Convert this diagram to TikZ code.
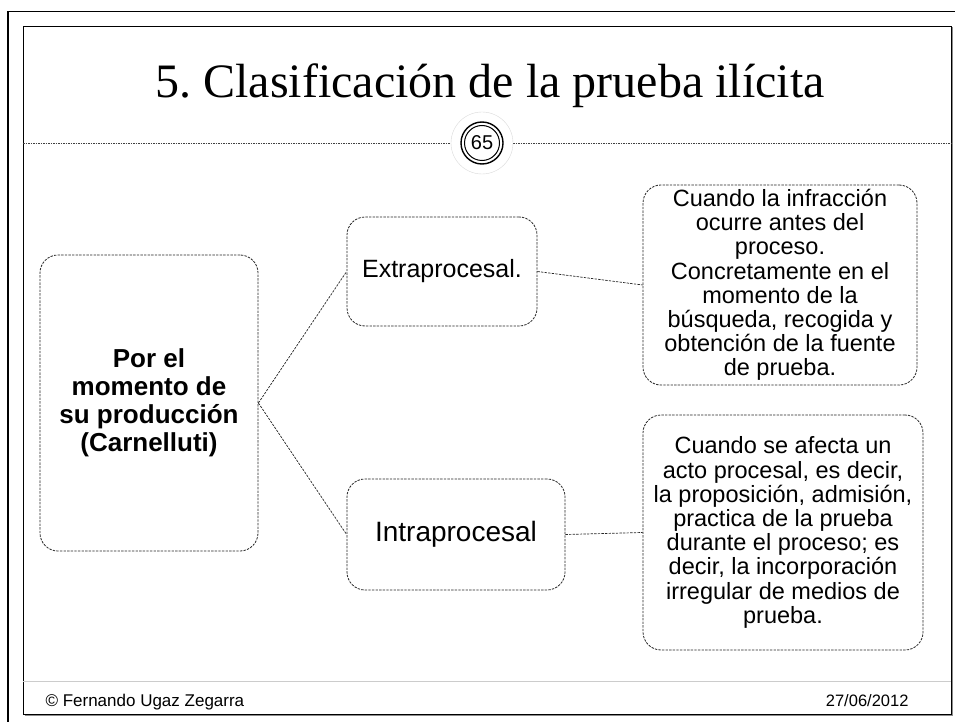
\documentclass[tikz,border=0pt]{standalone}
\usepackage{fontspec}
\setmainfont{Liberation Sans}
\newfontfamily\titlefont{Liberation Serif}
\frenchspacing

\begin{document}
\begin{tikzpicture}[x=1pt,y=-1pt,
  caja/.style={draw=black!85,dash pattern=on 2.4pt off 1.2pt,line width=0.8pt,rounded corners=18pt,align=center,inner sep=0pt},
  enlace/.style={draw=black!85,dash pattern=on 2.4pt off 1.2pt,line width=0.7pt},
  texto/.style={font=\fontsize{23.5}{24.2}\selectfont}]
\useasboundingbox (0,0) rectangle (955,722);
\draw [line width=1.8pt] (8,722) -- (8,11.5) -- (955,11.5);
\draw [black!45,line width=1.2pt] (24.5,715.5) -- (952.5,715.5) -- (952.5,27.5);
\draw [line width=0.9pt] (23,26) rectangle (951,714);
\node [anchor=base,font=\titlefont\fontsize{48}{50}\selectfont] (titulo) at (490,98) {5. Clasificación de la prueba ilícita};
\draw [black!75,dash pattern=on 1.5pt off 1pt,line width=0.7pt] (23,143) -- (951,143);
\node [circle,draw=black!15,fill=white,minimum size=62pt] (disco) at (482,143) {};
\node [circle,draw,line width=1.4pt,minimum size=42pt,inner sep=0pt] (anillo) at (disco) {};
\node [circle,draw,line width=1pt,minimum size=35pt,inner sep=0pt,font=\fontsize{20}{21}\selectfont] (pagina) at (disco) {65};
\node [caja,minimum width=218pt,minimum height=296pt,font=\bfseries\fontsize{26}{28}\selectfont] (raiz) at (149,403) {Por el\\ momento de\\ su producción\\ (Carnelluti)};
\node [caja,minimum width=190pt,minimum height=109pt,font=\fontsize{25}{28}\selectfont] (extra) at (442,271.5) {Extraprocesal.};
\node [caja,minimum width=218pt,minimum height=111pt,font=\fontsize{28}{30}\selectfont] (intra) at (456,534.5) {Intraprocesal};
\node [caja,texto,minimum width=274pt,minimum height=200pt] (antes) at (780,285) {Cuando la infracción\\ ocurre antes del\\ proceso.\\ Concretamente en el\\ momento de la\\ búsqueda, recogida y\\ obtención de la fuente\\ de prueba.};
\node [caja,texto,minimum width=280pt,minimum height=235pt] (durante) at (783,532.5) {Cuando se afecta un\\ acto procesal, es decir,\\ la proposición, admisión,\\ practica de la prueba\\ durante el proceso; es\\ decir, la incorporación\\ irregular de medios de\\ prueba.};
\draw [enlace] (raiz.east) -- (extra.west);
\draw [enlace] (raiz.east) -- (intra.west);
\draw [enlace] (extra.east) -- (antes.west);
\draw [enlace] (intra.east) -- (durante.west);
\draw [black!20,line width=0.8pt] (23,681) -- (951,681);
\node [anchor=base west,font=\fontsize{17}{18}\selectfont] (autor) at (42,706) {© Fernando Ugaz Zegarra};
\node [anchor=base east,font=\fontsize{16.5}{18}\selectfont] (fecha) at (912,706) {27/06/2012};
\end{tikzpicture}
\end{document}
